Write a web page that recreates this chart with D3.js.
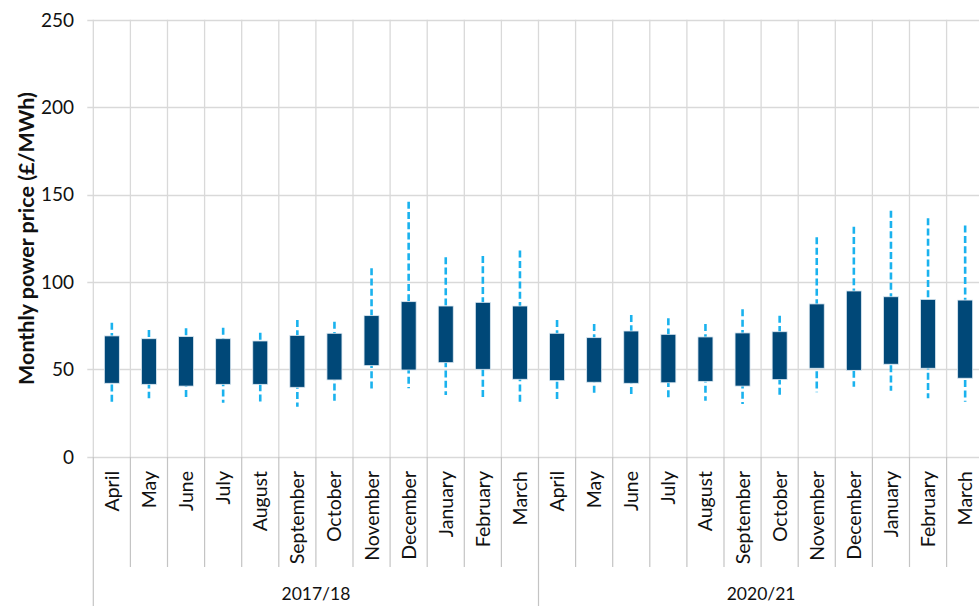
<!DOCTYPE html>
<html>
<head>
<meta charset="utf-8">
<script src="https://cdn.jsdelivr.net/npm/d3@7"></script>
<style>
  html, body { margin: 0; padding: 0; background: #fff; }
  svg { display: block; font-family: Lato, "Open Sans", sans-serif; }
</style>
</head>
<body>
<svg id="chart" width="979" height="606"></svg>
<script>
// Monthly wholesale power price ranges, £/MWh
const years = ["2017/18", "2020/21"];
const months = ["April", "May", "June", "July", "August", "September", "October",
                "November", "December", "January", "February", "March"];

// whisker minimum, box bottom, box top, whisker maximum per month
const low2017  = [30, 33.4, 33.4, 30.9, 30.5, 28.6, 31.5, 38.2, 39.1, 35.3, 32.8, 30.9];
const q1_2017  = [42, 41.4, 40.4, 41.4, 41.4, 39.7, 43.9, 52.1, 49.6, 53.8, 50, 44.3];
const q3_2017  = [69.1, 67.5, 68.7, 67.5, 66.2, 69.4, 70.6, 80.7, 88.7, 86.2, 88.3, 86.2];
const high2017 = [76.7, 72.5, 73.5, 73.8, 70.9, 78.2, 77.2, 107.8, 145.9, 114.1, 114.8, 117.9];

const low2020  = [32, 34.9, 35.9, 32.4, 32, 30.1, 34, 36.8, 40, 37.8, 33.4, 31.5];
const q1_2020  = [43.5, 42.6, 42, 42.3, 43.1, 40.4, 44.1, 50.6, 49.4, 52.9, 50.6, 44.9];
const q3_2020  = [70.6, 68.1, 71.9, 70, 68.5, 70.8, 71.5, 87.4, 94.8, 91.5, 90, 89.6];
const high2020 = [78.2, 75.9, 81.1, 79.2, 75.9, 84.3, 80.7, 125.5, 131.6, 140.7, 136.4, 132.2];

const yTicks = [0, 50, 100, 150, 200, 250];
const yTitle = "Monthly power price (£/MWh)";

const rows = [];
[[low2017, q1_2017, q3_2017, high2017], [low2020, q1_2020, q3_2020, high2020]].forEach((s, yi) => {
  months.forEach((m, i) => rows.push({
    key: years[yi] + "-" + m, year: years[yi], month: m,
    low: s[0][i], q1: s[1][i], q3: s[2][i], high: s[3][i]
  }));
});

const svg = d3.select("#chart");
const left = 93.3, step = 37.1;
const x = d3.scaleBand().domain(rows.map(d => d.key))
  .range([left, left + step * rows.length]).paddingInner(0).paddingOuter(0);
const y = d3.scaleLinear().domain([0, 250]).range([456.7, 19.7]);

const gridColor = "#d9d9d9";
const divColor = "#c4c4c4";

// horizontal gridlines with left tick marks
svg.append("g").selectAll("line").data(yTicks).join("line")
  .attr("x1", left - 6).attr("x2", 979)
  .attr("y1", d => Math.round(y(d)) + 0.5).attr("y2", d => Math.round(y(d)) + 0.5)
  .attr("stroke", gridColor).attr("stroke-width", 1.3);

// vertical gridlines at category boundaries
const bounds = d3.range(rows.length + 1).map(i => left + i * step);
svg.append("g").selectAll("line").data(bounds).join("line")
  .attr("x1", d => d).attr("x2", d => d)
  .attr("y1", y(250)).attr("y2", y(0))
  .attr("stroke", gridColor).attr("stroke-width", 1.3);

// category dividers below the axis
svg.append("g").selectAll("line").data(bounds).join("line")
  .attr("x1", d => d).attr("x2", d => d)
  .attr("y1", y(0)).attr("y2", (d, i) => (i % 12 === 0) ? 606 : 567)
  .attr("stroke", divColor).attr("stroke-width", 1.2);

// y tick labels
svg.append("g").selectAll("text").data(yTicks).join("text")
  .attr("x", 74).attr("y", d => y(d))
  .attr("dy", "0.36em").attr("text-anchor", "end")
  .attr("font-size", 19).attr("fill", "#111")
  .text(d => d);

// y axis title
svg.append("text")
  .attr("transform", `translate(26,${(85 + 392) / 2}) rotate(-90)`)
  .attr("text-anchor", "middle").attr("dy", "0.36em")
  .attr("font-size", 21.5).attr("font-weight", "bold").attr("fill", "#111")
  .text(yTitle);

// whiskers
const boxW = 15;
svg.append("g").selectAll("line").data(rows).join("line")
  .attr("x1", d => x(d.key) + x.bandwidth() / 2)
  .attr("x2", d => x(d.key) + x.bandwidth() / 2)
  .attr("y1", d => y(d.high)).attr("y2", d => y(d.low))
  .attr("stroke", "#1ab2ee").attr("stroke-width", 2.6)
  .attr("stroke-dasharray", "7,3.3");

// boxes
svg.append("g").selectAll("rect").data(rows).join("rect")
  .attr("x", d => x(d.key) + x.bandwidth() / 2 - boxW / 2)
  .attr("width", boxW)
  .attr("y", d => y(d.q3))
  .attr("height", d => y(d.q1) - y(d.q3))
  .attr("fill", "#004878")
  .attr("stroke", "#dce9f2").attr("stroke-width", 0.8);

// month labels, rotated
svg.append("g").selectAll("text").data(rows).join("text")
  .attr("transform", d => `translate(${x(d.key) + x.bandwidth() / 2},471) rotate(-90)`)
  .attr("text-anchor", "end").attr("dy", "0.36em")
  .attr("font-size", 19.5).attr("fill", "#111")
  .text(d => d.month);

// fiscal year labels
svg.append("g").selectAll("text").data(years).join("text")
  .attr("x", (d, i) => left + (i * 12 + 6) * step)
  .attr("y", 600)
  .attr("text-anchor", "middle")
  .attr("font-size", 17.5).attr("fill", "#111")
  .text(d => d);
</script>
</body>
</html>
